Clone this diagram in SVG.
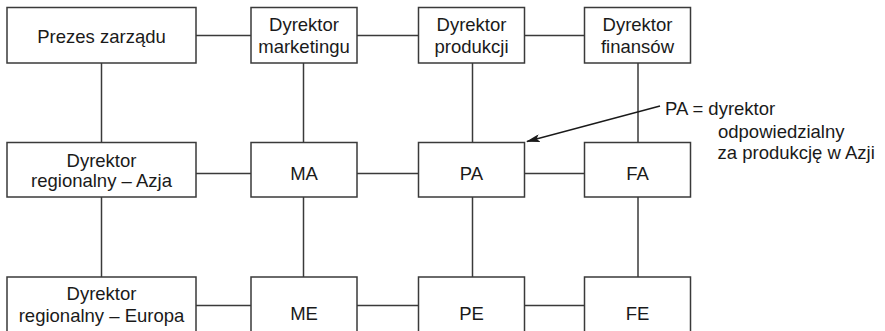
<svg xmlns="http://www.w3.org/2000/svg" width="885" height="331" viewBox="0 0 885 331">
  <style>
    .box { fill: #ffffff; stroke: #3a3a3a; stroke-width: 1.5; }
    .line { fill: none; stroke: #3a3a3a; stroke-width: 1.5; }
    text { font-family: "Liberation Sans", Arial, sans-serif; font-size: 18.5px; fill: #1a1a1a; }
    .c { text-anchor: middle; }
  </style>
  <defs>
    <marker id="arrow" markerWidth="14" markerHeight="8" refX="13" refY="4" orient="auto" markerUnits="userSpaceOnUse">
      <path d="M0,0 L14,4 L0,8 L3,4 Z" fill="#1a1a1a"/>
    </marker>
  </defs>

  <!-- connectors -->
  <g id="connectors">
    <!-- horizontal links, row 1 -->
    <line class="line" x1="196" y1="35.5" x2="251" y2="35.5"/>
    <line class="line" x1="357" y1="35.5" x2="418.5" y2="35.5"/>
    <line class="line" x1="524.5" y1="35.5" x2="584.5" y2="35.5"/>
    <!-- horizontal links, row 2 -->
    <line class="line" x1="196" y1="173.5" x2="251" y2="173.5"/>
    <line class="line" x1="357" y1="173.5" x2="418.5" y2="173.5"/>
    <line class="line" x1="524.5" y1="173.5" x2="584.5" y2="173.5"/>
    <!-- horizontal links, row 3 -->
    <line class="line" x1="196" y1="305.5" x2="251" y2="305.5"/>
    <line class="line" x1="357" y1="305.5" x2="418.5" y2="305.5"/>
    <line class="line" x1="524.5" y1="305.5" x2="584.5" y2="305.5"/>
    <!-- vertical links, row 1 to row 2 -->
    <line class="line" x1="101.5" y1="63" x2="101.5" y2="142.5"/>
    <line class="line" x1="303.5" y1="63" x2="303.5" y2="142.5"/>
    <line class="line" x1="472.5" y1="63" x2="472.5" y2="142.5"/>
    <line class="line" x1="638" y1="63" x2="638" y2="142.5"/>
    <!-- vertical links, row 2 to row 3 -->
    <line class="line" x1="101.5" y1="197" x2="101.5" y2="277"/>
    <line class="line" x1="303.5" y1="197" x2="303.5" y2="277"/>
    <line class="line" x1="472.5" y1="197" x2="472.5" y2="277"/>
    <line class="line" x1="638" y1="197" x2="638" y2="277"/>
    <!-- annotation pointer -->
    <line x1="660" y1="106" x2="527" y2="141.5" stroke="#1a1a1a" stroke-width="1.3" marker-end="url(#arrow)"/>
  </g>

  <!-- row 1 -->
  <g id="prezes">
    <rect class="box" x="7" y="7.5" width="189" height="55.5"/>
    <text class="c" x="101.5" y="42.5">Prezes zarządu</text>
  </g>
  <g id="dyr-marketingu">
    <rect class="box" x="251" y="7.5" width="106" height="55.5"/>
    <text class="c" x="304" y="30.5">Dyrektor</text>
    <text class="c" x="304" y="53">marketingu</text>
  </g>
  <g id="dyr-produkcji">
    <rect class="box" x="418.5" y="7.5" width="106" height="55.5"/>
    <text class="c" x="471.5" y="30.5">Dyrektor</text>
    <text class="c" x="471.5" y="53">produkcji</text>
  </g>
  <g id="dyr-finansow">
    <rect class="box" x="584.5" y="7.5" width="106" height="55.5"/>
    <text class="c" x="637.5" y="30.5">Dyrektor</text>
    <text class="c" x="637.5" y="53">finansów</text>
  </g>

  <!-- row 2 -->
  <g id="dyr-azja">
    <rect class="box" x="7" y="142.5" width="189" height="54.5"/>
    <text class="c" x="101.5" y="166.5">Dyrektor</text>
    <text class="c" x="101.5" y="187">regionalny – Azja</text>
  </g>
  <g id="ma">
    <rect class="box" x="251" y="142.5" width="106" height="54.5"/>
    <text class="c" x="304" y="179.5">MA</text>
  </g>
  <g id="pa">
    <rect class="box" x="418.5" y="142.5" width="106" height="54.5"/>
    <text class="c" x="471.5" y="179.5">PA</text>
  </g>
  <g id="fa">
    <rect class="box" x="584.5" y="142.5" width="106" height="54.5"/>
    <text class="c" x="637.5" y="179.5">FA</text>
  </g>

  <!-- row 3 -->
  <g id="dyr-europa">
    <rect class="box" x="7" y="277" width="189" height="60"/>
    <text class="c" x="101.5" y="300">Dyrektor</text>
    <text class="c" x="101.5" y="321.5">regionalny – Europa</text>
  </g>
  <g id="me">
    <rect class="box" x="251" y="277" width="106" height="60"/>
    <text class="c" x="304" y="320">ME</text>
  </g>
  <g id="pe">
    <rect class="box" x="418.5" y="277" width="106" height="60"/>
    <text class="c" x="471.5" y="320">PE</text>
  </g>
  <g id="fe">
    <rect class="box" x="584.5" y="277" width="106" height="60"/>
    <text class="c" x="637.5" y="320">FE</text>
  </g>

  <!-- annotation -->
  <g id="note-pa">
    <text x="665" y="115">PA = dyrektor</text>
    <text x="718" y="137.5">odpowiedzialny</text>
    <text x="717.5" y="159">za produkcję w Azji</text>
  </g>
</svg>
